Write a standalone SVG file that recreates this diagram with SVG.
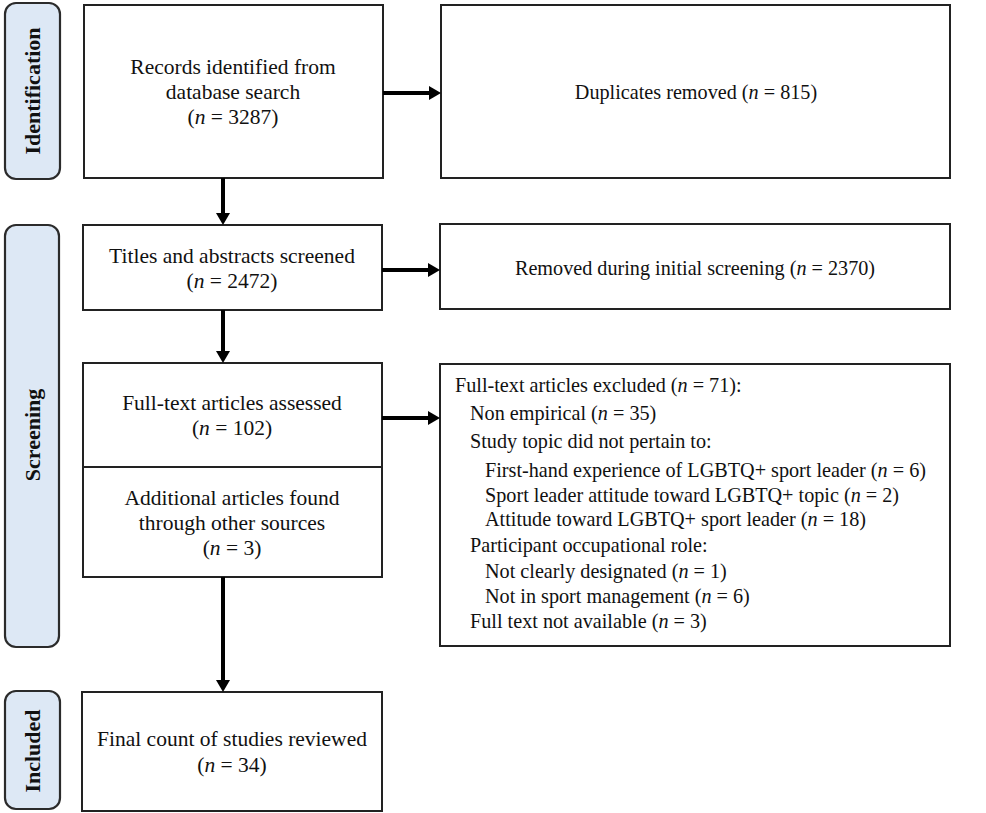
<svg xmlns="http://www.w3.org/2000/svg" width="986" height="813" viewBox="0 0 986 813">
<style>
text{font-family:"Liberation Serif","Times New Roman",serif;font-size:21.5px;fill:#111}
.r{font-size:20.2px}
.c{text-anchor:middle}
.i{font-style:italic}
.box{fill:#fff;stroke:#222;stroke-width:2}
.pill{fill:#dde8f5;stroke:#2b2b2b;stroke-width:2.2}
.lab{font-weight:bold;text-anchor:middle;font-size:22px}
.con{stroke:#000;stroke-width:4;fill:none}
</style>
<defs>
<marker id="ah" markerUnits="userSpaceOnUse" markerWidth="12" markerHeight="14" refX="0" refY="7" orient="auto">
<path d="M0,0 L12,7 L0,14 z" fill="#000"/>
</marker>
</defs>
<rect width="986" height="813" fill="#fff"/>
<g id="phase-identification">
<rect class="pill" x="5" y="3" width="55" height="176" rx="11"/>
<text class="lab" transform="translate(40,91) rotate(-90)">Identification</text>
</g>
<g id="phase-screening">
<rect class="pill" x="5" y="225" width="54" height="422" rx="11"/>
<text class="lab" transform="translate(40,435) rotate(-90)">Screening</text>
</g>
<g id="phase-included">
<rect class="pill" x="5" y="691" width="55" height="118" rx="11"/>
<text class="lab" transform="translate(40,751) rotate(-90)">Included</text>
</g>
<g id="records">
<rect class="box" x="84" y="5" width="299" height="173"/>
<text class="c" x="233" y="74">Records identified from</text>
<text class="c" x="233" y="99">database search</text>
<text class="c" x="233" y="124">(<tspan class="i">n</tspan> = 3287)</text>
</g>
<g id="duplicates">
<rect class="box" x="441" y="5" width="509" height="173"/>
<text class="c r" x="696" y="99">Duplicates removed (<tspan class="i">n</tspan> = 815)</text>
</g>
<g id="titles">
<rect class="box" x="83" y="225" width="299" height="85"/>
<text class="c" x="232" y="263">Titles and abstracts screened</text>
<text class="c" x="232" y="288">(<tspan class="i">n</tspan> = 2472)</text>
</g>
<g id="removed">
<rect class="box" x="440" y="224" width="510" height="85"/>
<text class="c r" x="695" y="275">Removed during initial screening (<tspan class="i">n</tspan> = 2370)</text>
</g>
<g id="fulltext">
<rect class="box" x="83" y="363" width="299" height="104"/>
<text class="c" x="232" y="410">Full-text articles assessed</text>
<text class="c" x="232" y="435">(<tspan class="i">n</tspan> = 102)</text>
</g>
<g id="additional">
<rect class="box" x="83" y="467" width="299" height="110"/>
<text class="c" x="232" y="505">Additional articles found</text>
<text class="c" x="232" y="530">through other sources</text>
<text class="c" x="232" y="555">(<tspan class="i">n</tspan> = 3)</text>
</g>
<g id="excluded">
<rect class="box" x="440" y="364" width="510" height="282"/>
<text class="r" x="455" y="392">Full-text articles excluded (<tspan class="i">n</tspan> = 71):</text>
<text class="r" x="470" y="420">Non empirical (<tspan class="i">n</tspan> = 35)</text>
<text class="r" x="470" y="448">Study topic did not pertain to:</text>
<text class="r" x="485" y="477">First-hand experience of LGBTQ+ sport leader (<tspan class="i">n</tspan> = 6)</text>
<text class="r" x="485" y="502">Sport leader attitude toward LGBTQ+ topic (<tspan class="i">n</tspan> = 2)</text>
<text class="r" x="485" y="526">Attitude toward LGBTQ+ sport leader (<tspan class="i">n</tspan> = 18)</text>
<text class="r" x="470" y="552">Participant occupational role:</text>
<text class="r" x="485" y="578">Not clearly designated (<tspan class="i">n</tspan> = 1)</text>
<text class="r" x="485" y="603">Not in sport management (<tspan class="i">n</tspan> = 6)</text>
<text class="r" x="470" y="628">Full text not available (<tspan class="i">n</tspan> = 3)</text>
</g>
<g id="final">
<rect class="box" x="82" y="692" width="300" height="119"/>
<text class="c" x="232" y="746">Final count of studies reviewed</text>
<text class="c" x="232" y="772">(<tspan class="i">n</tspan> = 34)</text>
</g>
<g id="connectors">
<line class="con" x1="383" y1="93" x2="429" y2="93" marker-end="url(#ah)"/>
<line class="con" x1="382" y1="270" x2="428" y2="270" marker-end="url(#ah)"/>
<line class="con" x1="382" y1="418" x2="428" y2="418" marker-end="url(#ah)"/>
<line class="con" x1="223" y1="178" x2="223" y2="213" marker-end="url(#ah)"/>
<line class="con" x1="223" y1="310" x2="223" y2="351" marker-end="url(#ah)"/>
<line class="con" x1="223" y1="577" x2="223" y2="680" marker-end="url(#ah)"/>
</g>
</svg>
